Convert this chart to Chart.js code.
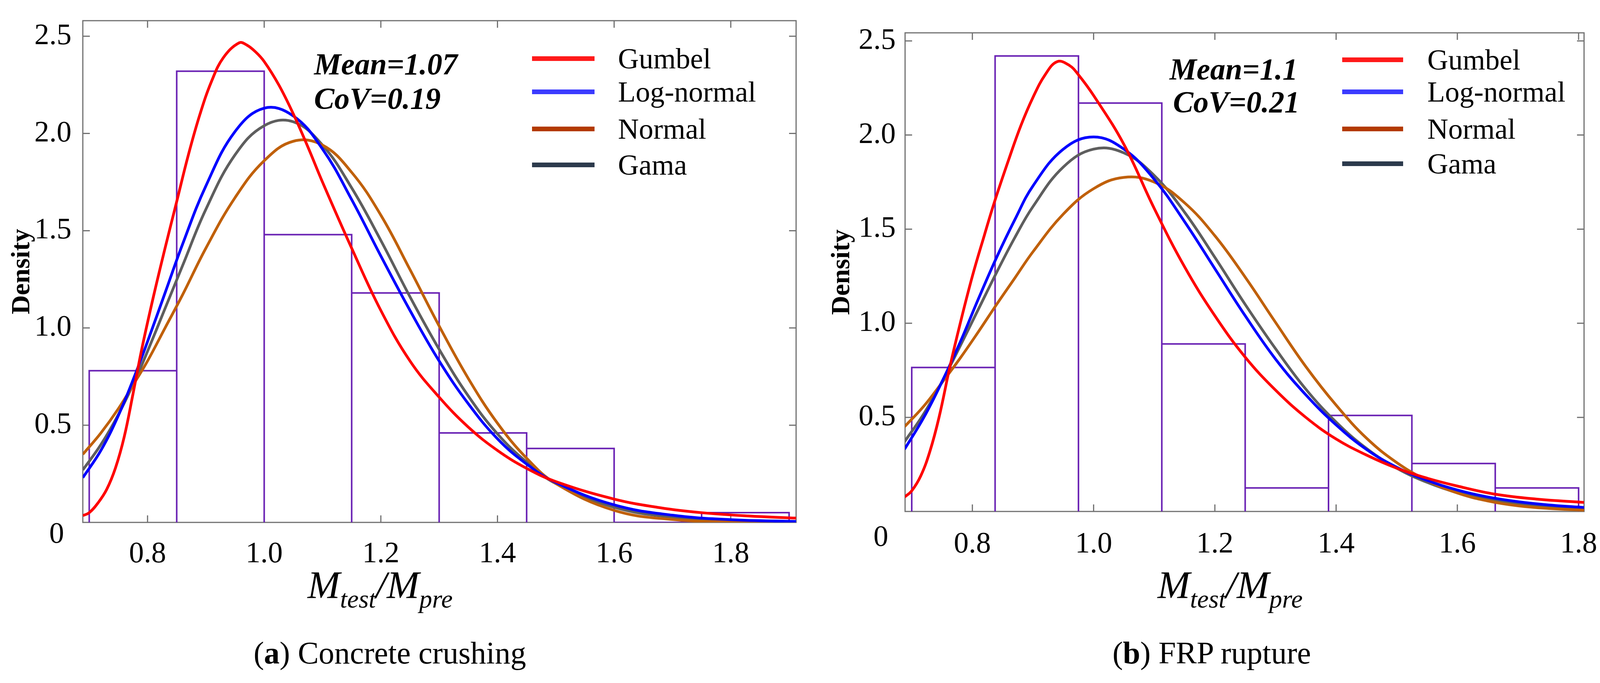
<!DOCTYPE html>
<html>
<head>
<meta charset="utf-8">
<script src="https://cdn.jsdelivr.net/npm/chart.js@4.4.1/dist/chart.umd.min.js"></script>
<style>
  body { margin: 0; background: #fff; width: 4120px; height: 1748px; position: relative; overflow: hidden; color: #000; }
  .serif { font-family: 'Liberation Serif', 'Times New Roman', serif; }
  .panel { position: absolute; top: 0; width: 2060px; height: 1600px; }
  .stat { position: absolute; font-size: 78px; line-height: 1; font-weight: bold; font-style: italic; white-space: nowrap; }
  .leg { position: absolute; height: 0; }
  .leg .sw { position: absolute; top: -6px; height: 12px; }
  .leg .tx { position: absolute; top: -37px; font-size: 74px; line-height: 1; white-space: nowrap; }
  .xtitle { position: absolute; top: 1447px; transform: translateX(-50%); font-size: 100px; line-height: 1; font-style: italic; white-space: nowrap; }
  .xtitle sub { font-size: 66px; vertical-align: -25px; line-height: 0; }
  .caption { position: absolute; top: 1631px; transform: translateX(-50%); font-size: 80px; line-height: 1; white-space: nowrap; }
</style>
</head>
<body>
<div class="panel" style="left:0"><canvas id="chartA"></canvas></div>
<div class="panel" style="left:2060px"><canvas id="chartB"></canvas></div>

<div class="stat serif" style="left:804px;top:125px">Mean=1.07</div>
<div class="stat serif" style="left:804px;top:213px">CoV=0.19</div>
<div class="stat serif" style="left:2994px;top:138px">Mean=1.1</div>
<div class="stat serif" style="left:3003px;top:222px">CoV=0.21</div>

<div id="legA"></div>
<div id="legB"></div>

<div class="xtitle serif" style="left:973px">M<sub>test</sub>/M<sub>pre</sub></div>
<div class="xtitle serif" style="left:3149px">M<sub>test</sub>/M<sub>pre</sub></div>

<div class="caption serif" style="left:998px">(<b>a</b>) Concrete crushing</div>
<div class="caption serif" style="left:3102px">(<b>b</b>) FRP rupture</div>

<script>
// series names and colours
const seriesNames = ['Gumbel', 'Log-normal', 'Normal', 'Gama'];
const curveColors = ['#ff0000', '#0000ff', '#c0600a', '#5e5e5e'];
const legendColors = ['#ff1a1a', '#3b3bff', '#b33a00', '#2c3a4c'];
const histColor = '#6a22b4';

// (a) concrete crushing - histogram
const binEdgesA = [0.70, 0.85, 1.00, 1.15, 1.30, 1.45, 1.60, 1.75, 1.90];
const densityA = [0.78, 2.32, 1.48, 1.18, 0.46, 0.38, 0.0, 0.05];

// (a) fitted curves
const xA = [0.689, 0.72, 0.75, 0.78, 0.80, 0.83, 0.86, 0.90, 0.95, 1.00, 1.05, 1.10, 1.15, 1.20, 1.25, 1.30, 1.35, 1.40, 1.45, 1.50, 1.60, 1.70, 1.80, 1.912];
const logNormalA = [0.23, 0.37, 0.55, 0.77, 0.93, 1.18, 1.43, 1.73, 2.01, 2.13, 2.09, 1.92, 1.66, 1.37, 1.09, 0.83, 0.61, 0.43, 0.30, 0.205, 0.09, 0.037, 0.014, 0.005];
const normalA = [0.35, 0.46, 0.585, 0.73, 0.83, 1.00, 1.17, 1.41, 1.67, 1.86, 1.96, 1.94, 1.80, 1.58, 1.30, 1.01, 0.74, 0.51, 0.33, 0.20, 0.062, 0.015, 0.003, 0.0004];
const gamaA = [0.27, 0.40, 0.555, 0.74, 0.88, 1.10, 1.32, 1.61, 1.89, 2.04, 2.06, 1.94, 1.72, 1.45, 1.16, 0.89, 0.65, 0.455, 0.31, 0.20, 0.078, 0.027, 0.0085, 0.002];
const xGumbelA = [0.689, 0.70, 0.715, 0.73, 0.745, 0.76, 0.775, 0.79, 0.81, 0.83, 0.85, 0.87, 0.89, 0.91, 0.93, 0.957, 0.97, 0.985, 1.00, 1.025, 1.05, 1.075, 1.10, 1.15, 1.20, 1.25, 1.30, 1.35, 1.40, 1.45, 1.50, 1.60, 1.68, 1.75, 1.83, 1.912];
const gumbelA = [0.035, 0.05, 0.10, 0.17, 0.28, 0.44, 0.66, 0.89, 1.16, 1.41, 1.65, 1.89, 2.10, 2.27, 2.39, 2.466, 2.455, 2.42, 2.37, 2.25, 2.10, 1.93, 1.75, 1.41, 1.09, 0.83, 0.644, 0.49, 0.37, 0.278, 0.21, 0.12, 0.075, 0.05, 0.033, 0.022];

// (b) FRP rupture - histogram
const binEdgesB = [0.70, 0.8375, 0.975, 1.1125, 1.25, 1.3875, 1.525, 1.6625, 1.80];
const densityB = [0.765, 2.42, 2.17, 0.89, 0.125, 0.51, 0.255, 0.125];

// (b) fitted curves
const xB = [0.688, 0.72, 0.75, 0.78, 0.81, 0.84, 0.87, 0.90, 0.95, 1.00, 1.05, 1.10, 1.15, 1.20, 1.25, 1.30, 1.35, 1.40, 1.45, 1.50, 1.55, 1.60, 1.65, 1.70, 1.75, 1.809];
const logNormalB = [0.33, 0.50, 0.69, 0.90, 1.13, 1.35, 1.55, 1.73, 1.925, 1.99, 1.925, 1.765, 1.54, 1.29, 1.04, 0.81, 0.62, 0.46, 0.33, 0.235, 0.165, 0.114, 0.077, 0.052, 0.035, 0.021];
const normalB = [0.45, 0.56, 0.685, 0.815, 0.955, 1.10, 1.24, 1.38, 1.58, 1.715, 1.775, 1.75, 1.64, 1.465, 1.245, 1.005, 0.77, 0.565, 0.39, 0.26, 0.165, 0.098, 0.056, 0.030, 0.016, 0.007];
const gamaB = [0.37, 0.52, 0.69, 0.88, 1.075, 1.27, 1.455, 1.62, 1.83, 1.925, 1.905, 1.785, 1.59, 1.35, 1.10, 0.865, 0.65, 0.475, 0.335, 0.23, 0.155, 0.10, 0.065, 0.04, 0.025, 0.015];
const xGumbelB = [0.688, 0.70, 0.715, 0.73, 0.745, 0.763, 0.78, 0.80, 0.82, 0.836, 0.86, 0.88, 0.90, 0.92, 0.94, 0.96, 0.975, 1.00, 1.05, 1.10, 1.15, 1.20, 1.25, 1.30, 1.35, 1.40, 1.45, 1.50, 1.55, 1.60, 1.662, 1.73, 1.809];
const gumbelB = [0.076, 0.11, 0.19, 0.32, 0.50, 0.77, 1.00, 1.25, 1.47, 1.64, 1.87, 2.05, 2.20, 2.32, 2.39, 2.37, 2.32, 2.21, 1.95, 1.61, 1.30, 1.04, 0.82, 0.645, 0.50, 0.385, 0.30, 0.23, 0.177, 0.135, 0.092, 0.066, 0.048];

const serif = "'Liberation Serif', 'Times New Roman', serif";
Chart.defaults.font.family = serif;

function pts(xs, ys) {
  return xs.map((x, i) => ({ x: x, y: ys[i] }));
}

// outline of the histogram bars, each bar drawn as a closed step
function histOutline(edges, dens) {
  const out = [];
  for (let i = 0; i < dens.length; i++) {
    out.push({ x: edges[i], y: 0 }, { x: edges[i], y: dens[i] },
             { x: edges[i + 1], y: dens[i] }, { x: edges[i + 1], y: 0 });
  }
  return out;
}

// frame around the plot and inward tick marks on all four sides
const frameTicks = {
  id: 'frameTicks',
  beforeDatasetsDraw(chart) {
    const { ctx, chartArea: a, scales: { x, y } } = chart;
    const len = 18;
    ctx.save();
    ctx.strokeStyle = '#707070';
    ctx.lineWidth = 3;
    ctx.strokeRect(a.left, a.top, a.right - a.left, a.bottom - a.top);
    ctx.beginPath();
    x.ticks.forEach(t => {
      const px = x.getPixelForValue(t.value);
      ctx.moveTo(px, a.bottom); ctx.lineTo(px, a.bottom - len);
      ctx.moveTo(px, a.top); ctx.lineTo(px, a.top + len);
    });
    y.ticks.forEach(t => {
      if (t.value === 0) return;
      const py = y.getPixelForValue(t.value);
      ctx.moveTo(a.left, py); ctx.lineTo(a.left + len, py);
      ctx.moveTo(a.right, py); ctx.lineTo(a.right - len, py);
    });
    ctx.stroke();
    ctx.restore();
  }
};

function makeChart(id, d) {
  const curves = [
    { xs: d.xGum, ys: d.gum },
    { xs: d.x, ys: d.logn },
    { xs: d.x, ys: d.norm },
    { xs: d.x, ys: d.gam }
  ];
  const datasets = curves.map((c, i) => ({
    label: seriesNames[i],
    data: pts(c.xs, c.ys),
    showLine: true,
    borderColor: curveColors[i],
    borderWidth: 7,
    pointRadius: 0,
    fill: false,
    tension: 0.4
  }));
  datasets.push({
    label: 'Histogram',
    data: histOutline(d.edges, d.dens),
    showLine: true,
    borderColor: histColor,
    borderWidth: 4,
    pointRadius: 0,
    fill: false,
    tension: 0
  });

  return new Chart(document.getElementById(id), {
    type: 'scatter',
    data: { datasets: datasets },
    options: {
      responsive: true,
      maintainAspectRatio: false,
      devicePixelRatio: 1,
      animation: false,
      layout: { padding: d.padding },
      plugins: { legend: { display: false }, tooltip: { enabled: false } },
      scales: {
        x: {
          type: 'linear',
          min: d.xMin, max: d.xMax,
          grid: { display: false },
          border: { display: false },
          afterFit: s => { s.height = d.xFit; },
          ticks: {
            stepSize: 0.2, includeBounds: false, autoSkip: false, maxRotation: 0,
            padding: d.xPad, color: '#000',
            font: { family: serif, size: 76 },
            callback: v => v.toFixed(1)
          }
        },
        y: {
          min: 0, max: d.yMax,
          grid: { display: false },
          border: { display: false },
          afterFit: s => { s.width = d.yFit; },
          title: {
            display: true, text: 'Density', color: '#000',
            padding: { top: d.titlePad, bottom: 0 },
            font: { family: serif, size: 68, weight: 'bold' }
          },
          ticks: {
            stepSize: 0.5, includeBounds: false, autoSkip: false,
            padding: d.yPad, color: '#000',
            font: { family: serif, size: 76, lineHeight: d.zeroLH },
            callback: v => (v === 0 ? ['', '0 '] : v.toFixed(1))
          }
        }
      }
    },
    plugins: [frameTicks]
  });
}

makeChart('chartA', {
  x: xA, logn: logNormalA, norm: normalA, gam: gamaA, xGum: xGumbelA, gum: gumbelA,
  edges: binEdgesA, dens: densityA,
  xMin: 0.689, xMax: 1.912, yMax: 2.58,
  padding: { left: 0, top: 36, right: 22, bottom: 0 },
  xFit: 263, yFit: 212, xPad: 28, yPad: 21, zeroLH: 0.84, titlePad: 17
});

makeChart('chartB', {
  x: xB, logn: logNormalB, norm: normalB, gam: gamaB, xGum: xGumbelB, gum: gumbelB,
  edges: binEdgesB, dens: densityB,
  xMin: 0.689, xMax: 1.809, yMax: 2.543,
  padding: { left: 0, top: 48, right: 38, bottom: 0 },
  xFit: 291, yFit: 257, xPad: 31, yPad: 16, zeroLH: 1.79, titlePad: 56
});

// legends inside each plot
function buildLegend(id, swLeft, swWidth, txLeft, rows) {
  const box = document.getElementById(id);
  seriesNames.forEach((name, i) => {
    const row = document.createElement('div');
    row.className = 'leg';
    row.style.left = '0px';
    row.style.top = rows[i] + 'px';
    row.innerHTML = '<div class="sw" style="left:' + swLeft + 'px;width:' + swWidth + 'px;background:' + legendColors[i] + '"></div>' +
                    '<div class="tx serif" style="left:' + txLeft + 'px">' + name + '</div>';
    box.appendChild(row);
  });
}
buildLegend('legA', 1362, 160, 1582, [150, 235, 330, 422]);
buildLegend('legB', 3436, 156, 3654, [153, 235, 330, 419]);
</script>
</body>
</html>
